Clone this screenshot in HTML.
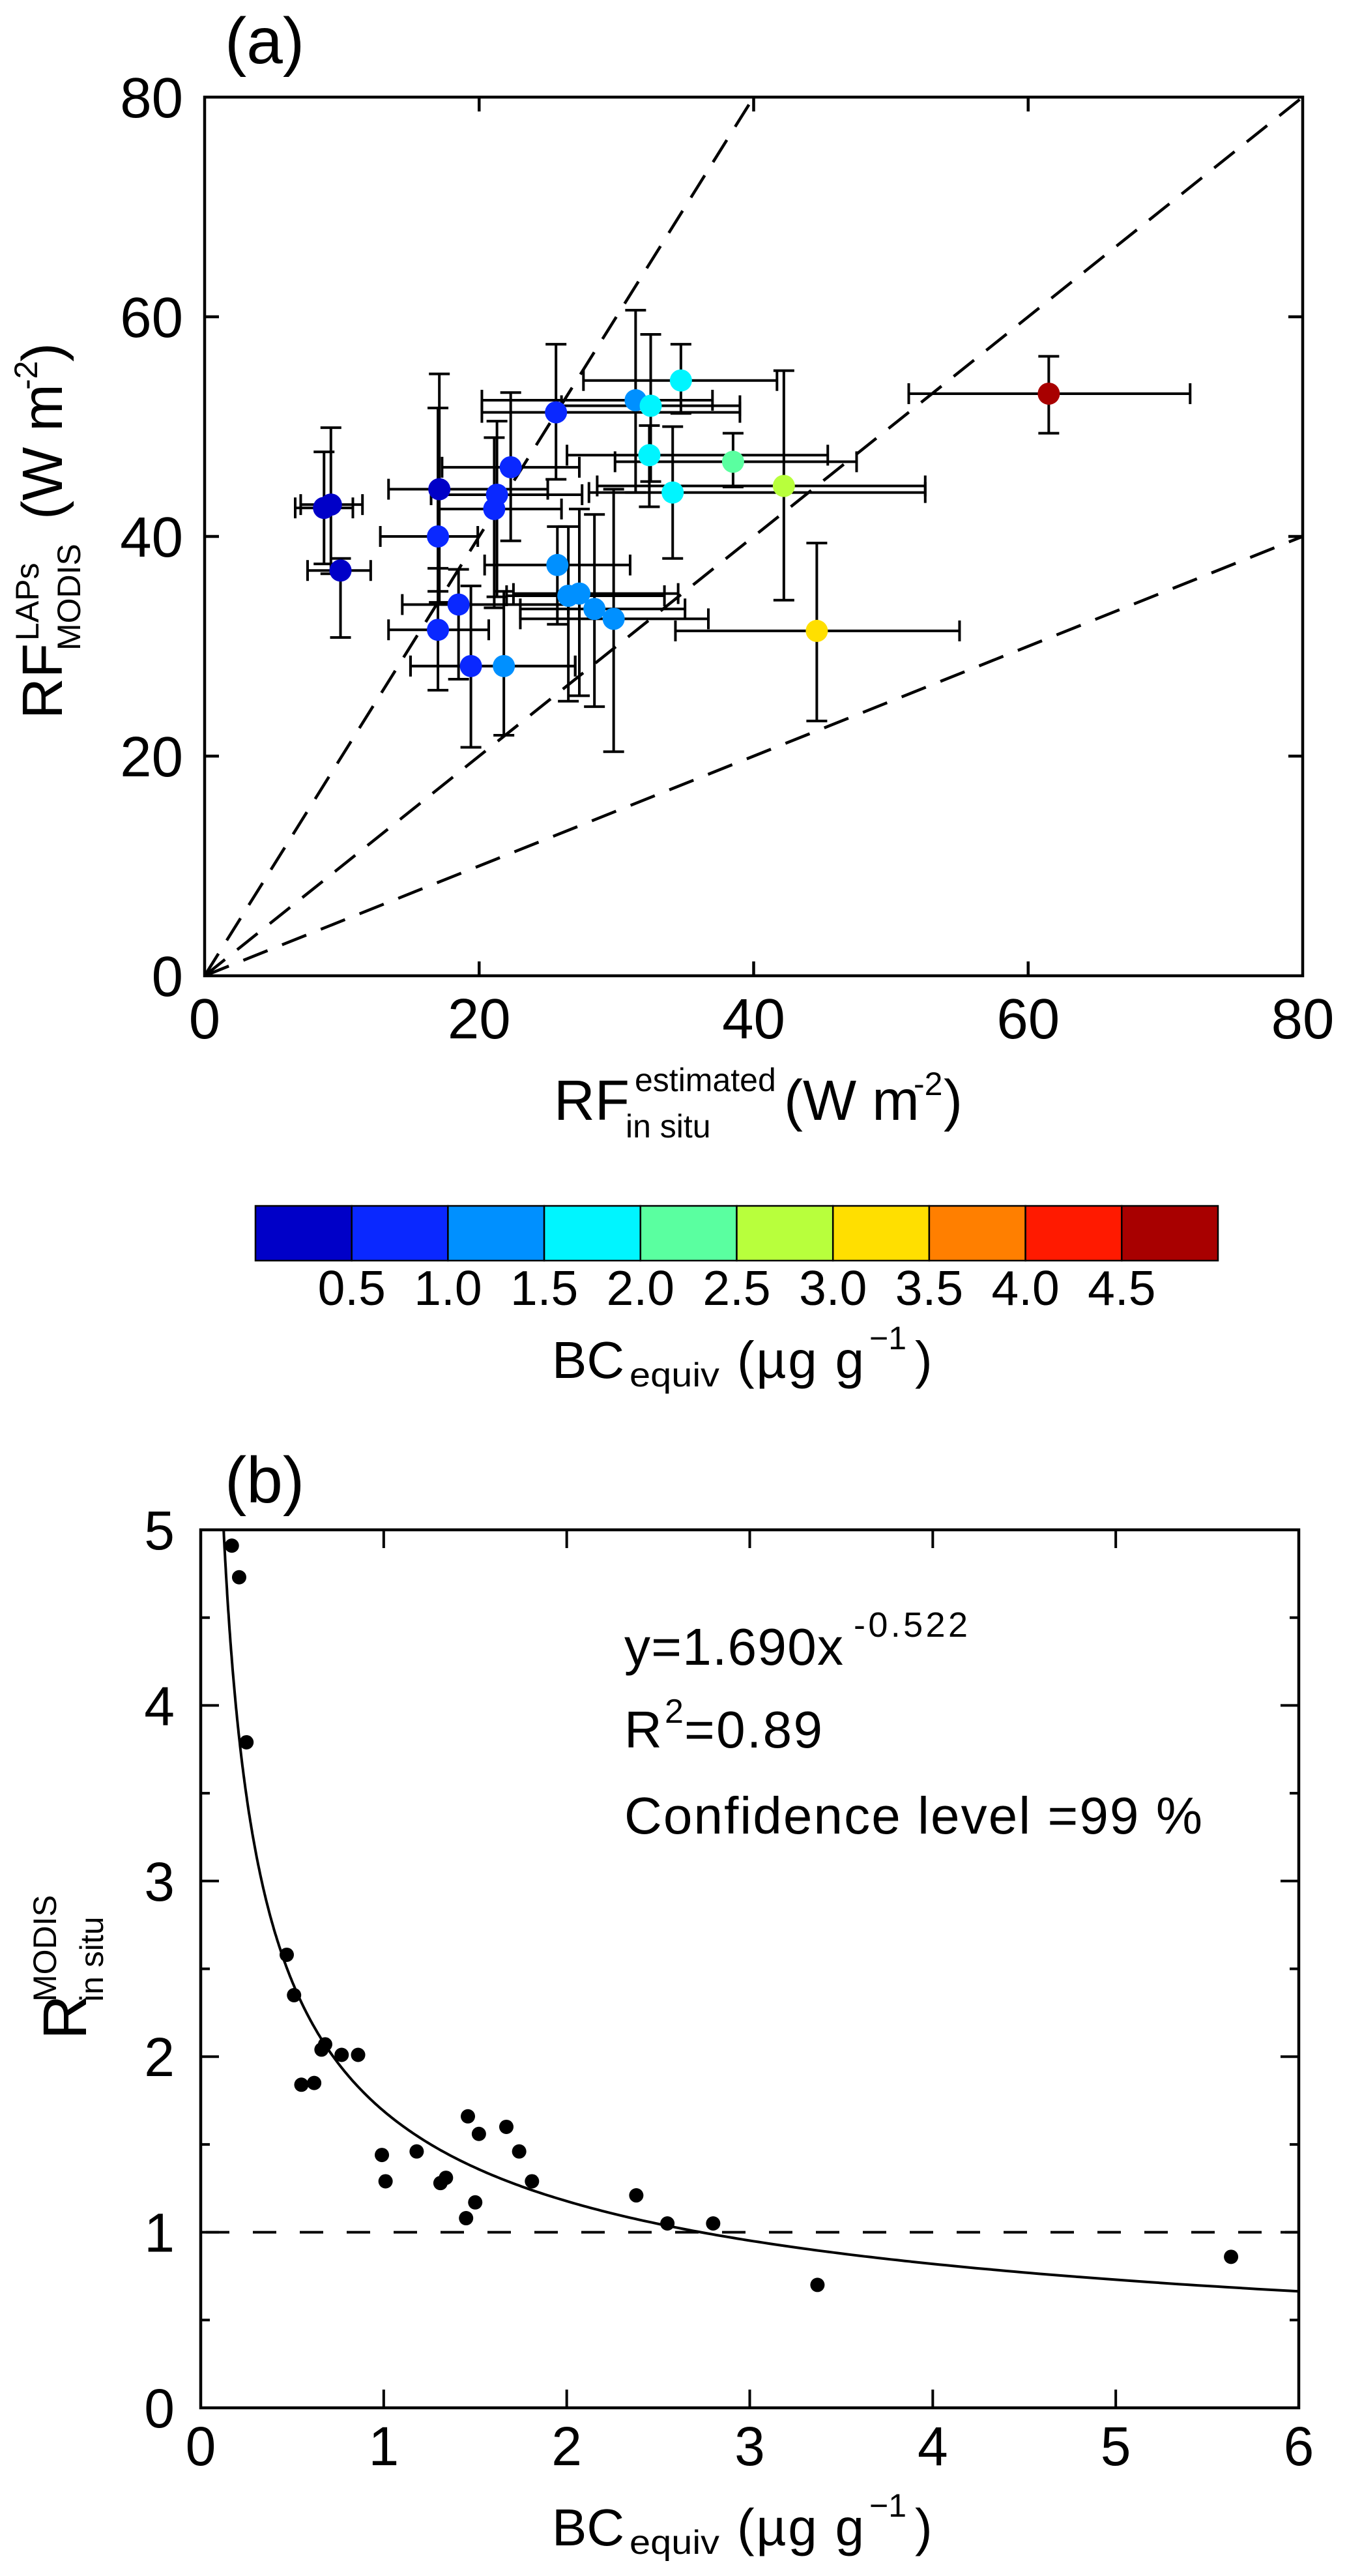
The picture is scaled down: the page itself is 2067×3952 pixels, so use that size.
<!DOCTYPE html>
<html><head><meta charset="utf-8"><style>
html,body{margin:0;padding:0;background:#fff}
svg{display:block}
text{font-family:"Liberation Sans",Arial,sans-serif;fill:#000}
</style></head><body>
<svg id="fig" width="2067" height="3952" viewBox="0 0 2067 3952" xmlns="http://www.w3.org/2000/svg">
<g id="pa"></g>
<g id="cb"></g>
<g id="pb"></g>
</svg>
<script>
// ---- Panel (a) data ----
const aX = [8.7, 9.2, 9.9, 17.1, 17.0, 17.0, 18.5, 19.4, 21.8, 21.3, 21.1, 22.3, 25.6, 25.7, 26.5, 27.3, 28.4, 29.8, 31.4, 32.5, 34.7, 32.4, 34.1, 38.5, 42.2, 44.6, 61.5];
const aY = [42.6, 42.9, 36.9, 44.3, 40.0, 31.5, 33.8, 28.2, 28.2, 43.8, 42.5, 46.3, 51.3, 37.4, 34.6, 34.8, 33.4, 32.5, 52.4, 51.9, 54.2, 47.4, 44.0, 46.8, 44.6, 31.4, 53.0];
const aXlo = [6.6, 7.0, 7.5, 13.4, 12.8, 13.4, 14.4, 15.0, 15.0, 16.5, 17.0, 17.3, 20.2, 20.4, 22.0, 22.5, 23.0, 23.0, 20.2, 26.0, 27.6, 26.4, 28.0, 29.9, 28.6, 34.3, 51.3];
const aXhi = [10.8, 11.5, 12.1, 25.0, 19.9, 20.7, 26.5, 27.0, 27.0, 27.5, 26.0, 27.3, 39.0, 31.0, 33.5, 34.5, 35.0, 36.7, 37.0, 39.0, 41.7, 45.4, 52.5, 47.5, 52.5, 55.0, 71.8];
const aYlo = [37.5, 36.6, 30.8, 34.0, 35.0, 26.0, 27.0, 20.8, 21.9, 34.5, 33.5, 39.6, 45.2, 32.0, 25.0, 25.5, 24.5, 20.4, 44.0, 45.0, 51.2, 42.7, 38.0, 44.5, 34.2, 23.2, 49.4];
const aYhi = [47.7, 49.9, 38.0, 54.8, 51.7, 37.1, 37.0, 35.5, 35.0, 50.5, 49.0, 53.1, 57.5, 40.9, 40.9, 42.5, 42.0, 44.3, 60.6, 58.4, 57.5, 50.1, 50.0, 49.4, 55.1, 39.4, 56.4];
const aBC = [0.3, 0.3, 0.3, 0.3, 0.7, 0.7, 0.7, 0.7, 1.2, 0.7, 0.7, 0.7, 0.7, 1.2, 1.2, 1.2, 1.2, 1.2, 1.2, 1.7, 1.7, 1.7, 1.7, 2.2, 2.7, 3.2, 5.6];
const aTicks = [0, 20, 40, 60, 80];
const refSlopes = [2, 1, 0.5];
// ---- Colorbar ----
const cbColors = ["#0000c8","#0a28ff","#0090ff","#00f5ff","#5affa0","#b8ff3c","#ffdf00","#ff7f00","#ff1a00","#a80000"];
const cbLabels = ["0.5","1.0","1.5","2.0","2.5","3.0","3.5","4.0","4.5"];
// ---- Panel (b) data ----
const bX = [0.17,0.21,0.25,0.47,0.51,0.55,0.62,0.66,0.68,0.77,0.86,0.99,1.01,1.18,1.31,1.34,1.46,1.45,1.50,1.52,1.67,1.74,1.81,2.38,2.55,2.80,3.37,5.63];
const bY = [4.91,4.73,3.79,2.58,2.35,1.84,1.85,2.04,2.07,2.01,2.01,1.44,1.29,1.46,1.28,1.31,1.66,1.08,1.17,1.56,1.60,1.46,1.29,1.21,1.05,1.05,0.70,0.86];
const bXTicks = [0,1,2,3,4,5,6];
const bYTicks = [0,1,2,3,4,5];
const fitA = 1.690, fitB = -0.522;

const NS = "http://www.w3.org/2000/svg";
function mk(tag, parent, attrs){
  const e = document.createElementNS(NS, tag);
  for (const k in attrs) e.setAttribute(k, attrs[k]);
  parent.appendChild(e); return e;
}
function txt(parent, x, y, s, size, anchor){
  const t = mk("text", parent, {x:x, y:y, "font-size":size, "text-anchor":anchor||"start"});
  t.textContent = s; return t;
}

// ===== Panel A =====
const pa = document.getElementById("pa");
const AL=314, AR=1999, AT=149, AB=1497;
const ax = v => AL + (v/80)*(AR-AL);
const ay = v => AB - (v/80)*(AB-AT);
refSlopes.forEach((s,i)=>{
  const xe = Math.min(80, 80/s), ye = xe*s;
  const l = mk("line", pa, {x1:ax(0),y1:ay(0),x2:ax(xe),y2:ay(ye),stroke:"#000","stroke-width":4.5,"stroke-dasharray":"40 24"});
  
  
});
const cap=16;
aX.forEach((v,i)=>{
  const g = mk("g", pa, {stroke:"#000","stroke-width":4});
  
  
  const cx=ax(v), cy=ay(aY[i]);
  mk("line", g, {x1:ax(aXlo[i]),y1:cy,x2:ax(aXhi[i]),y2:cy});
  mk("line", g, {x1:ax(aXlo[i]),y1:cy-cap,x2:ax(aXlo[i]),y2:cy+cap});
  mk("line", g, {x1:ax(aXhi[i]),y1:cy-cap,x2:ax(aXhi[i]),y2:cy+cap});
  mk("line", g, {x1:cx,y1:ay(aYlo[i]),x2:cx,y2:ay(aYhi[i])});
  mk("line", g, {x1:cx-cap,y1:ay(aYlo[i]),x2:cx+cap,y2:ay(aYlo[i])});
  mk("line", g, {x1:cx-cap,y1:ay(aYhi[i]),x2:cx+cap,y2:ay(aYhi[i])});
});
aX.forEach((v,i)=>{
  const bin = Math.min(9, Math.floor(aBC[i]/0.5));
  const c = mk("circle", pa, {cx:ax(v), cy:ay(aY[i]), r:17, fill:cbColors[bin]});
  
  
});
const fa = mk("rect", pa, {x:AL,y:AT,width:AR-AL,height:AB-AT,fill:"none",stroke:"#000","stroke-width":4.5});


aTicks.forEach(t=>{
  if (t>0 && t<80){
    mk("line", pa, {x1:ax(t),y1:AB,x2:ax(t),y2:AB-22,stroke:"#000","stroke-width":4.5});
    mk("line", pa, {x1:ax(t),y1:AT,x2:ax(t),y2:AT+22,stroke:"#000","stroke-width":4.5});
    mk("line", pa, {x1:AL,y1:ay(t),x2:AL+22,y2:ay(t),stroke:"#000","stroke-width":4.5});
    mk("line", pa, {x1:AR,y1:ay(t),x2:AR-22,y2:ay(t),stroke:"#000","stroke-width":4.5});
  }
  const xl = txt(pa, ax(t), 1593, String(t), 87, "middle");
  
  
  const yl = txt(pa, 281, ay(t)+31, String(t), 87, "end");
  
  
});
</script>
<script>
(function(){
const pa = document.getElementById("pa");
pa.insertAdjacentHTML("beforeend",
 '<text x="345" y="97" font-size="100">(a)</text>'+
 '<g><text x="850" y="1718" font-size="87">RF</text>'+
 '<text x="974" y="1674" font-size="50">estimated</text><text x="960" y="1745" font-size="50">in situ</text>'+
 '<text x="1203" y="1718" font-size="87">(W m</text><text x="1402" y="1680" font-size="50">-2</text><text x="1448" y="1718" font-size="87">)</text></g>'+
 '<g transform="translate(95,1103) rotate(-90)"><text x="0" y="0" font-size="87">RF</text>'+
 '<text x="120" y="-36" font-size="50">LAPs</text><text x="105" y="28" font-size="50">MODIS</text>'+
 '<text x="306" y="0" font-size="87">(W m</text><text x="505" y="-38" font-size="50">-2</text><text x="548" y="0" font-size="87">)</text></g>');
})();
</script>
<script>
// ===== Colorbar =====
(function(){
const cb = document.getElementById("cb");
const NS = "http://www.w3.org/2000/svg";
const L=392,R=1869,T=1850,B=1934,w=(R-L)/cbColors.length;
cbColors.forEach((c,i)=>{
  const r=document.createElementNS(NS,"rect");
  r.setAttribute("x",L+i*w);r.setAttribute("y",T);r.setAttribute("width",w);r.setAttribute("height",B-T);
  r.setAttribute("fill",c);r.setAttribute("stroke","#000");r.setAttribute("stroke-width",2.5);
  
  
  cb.appendChild(r);
});
cbLabels.forEach((s,i)=>{
  const t=document.createElementNS(NS,"text");
  t.setAttribute("x",L+(i+1)*w);t.setAttribute("y",2002);t.setAttribute("font-size",75);t.setAttribute("text-anchor","middle");
  t.textContent=s;
  
  
  cb.appendChild(t);
});
cb.insertAdjacentHTML("beforeend",
 '<g><text x="847" y="2114" font-size="80">BC</text><text x="966" y="2127" font-size="52" textLength="138" lengthAdjust="spacingAndGlyphs">equiv</text>'+
 '<text x="1131" y="2114" font-size="80" textLength="195">(µg g</text><text x="1334" y="2070" font-size="50">−1</text><text x="1404" y="2114" font-size="80">)</text></g>');
})();
</script>
<script>
// ===== Panel B =====
(function(){
const pb = document.getElementById("pb");
const NS = "http://www.w3.org/2000/svg";
const BL=308,BR=1993,BT=2347,BB=3694;
const bx = v => BL + (v/6)*(BR-BL);
const by = v => BB - (v/5)*(BB-BT);
function el(tag, attrs){const e=document.createElementNS(NS,tag);for(const k in attrs)e.setAttribute(k,attrs[k]);pb.appendChild(e);return e;}
const dl = el("line",{x1:bx(0),y1:by(1),x2:bx(6),y2:by(1),stroke:"#000","stroke-width":4,"stroke-dasharray":"36 36","stroke-dashoffset":"-8"});


let d="";
const x0 = Math.pow(fitA/5, -1/fitB);
for(let k=0;k<=400;k++){
  const x = x0*Math.pow(6/x0, k/400);
  const y = fitA*Math.pow(x, fitB);
  d += (k?"L":"M")+bx(x).toFixed(1)+","+by(y).toFixed(1);
}
const fc = el("path",{d:d,fill:"none",stroke:"#000","stroke-width":4});


bX.forEach((v,i)=>{
  const c = el("circle",{cx:bx(v),cy:by(bY[i]),r:11,fill:"#000"});
  
  
});
const fr = el("rect",{x:BL,y:BT,width:BR-BL,height:BB-BT,fill:"none",stroke:"#000","stroke-width":4.5});


bXTicks.forEach(t=>{
  if(t>0&&t<6){
    el("line",{x1:bx(t),y1:BB,x2:bx(t),y2:BB-28,stroke:"#000","stroke-width":4});
    el("line",{x1:bx(t),y1:BT,x2:bx(t),y2:BT+28,stroke:"#000","stroke-width":4});
  }
  const l = el("text",{x:bx(t),y:3782,"font-size":84,"text-anchor":"middle"}); l.textContent=String(t);
  
  
});
for(let h=0;h<=10;h++){
  const v=h/2; if(v===0||v===5) continue;
  const len = (h%2===0)?28:14;
  el("line",{x1:BL,y1:by(v),x2:BL+len,y2:by(v),stroke:"#000","stroke-width":4});
  el("line",{x1:BR,y1:by(v),x2:BR-len,y2:by(v),stroke:"#000","stroke-width":4});
}
bYTicks.forEach(t=>{
  const l = el("text",{x:268,y:by(t)+30,"font-size":84,"text-anchor":"end"}); l.textContent=String(t);
  
  
});
pb.insertAdjacentHTML("beforeend",
 '<text x="345" y="2305" font-size="100">(b)</text>'+
 '<g><text x="958" y="2554" font-size="80" textLength="336">y=1.690x</text><text x="1310" y="2511" font-size="54" textLength="175">-0.522</text></g>'+
 '<g><text x="958" y="2681" font-size="80" textLength="60">R</text><text x="1020" y="2643" font-size="52">2</text><text x="1050" y="2681" font-size="80" textLength="212">=0.89</text></g>'+
 '<text x="958" y="2813" font-size="80" textLength="887">Confidence level =99 %</text>'+
 '<g><text x="847" y="3905" font-size="80">BC</text><text x="966" y="3918" font-size="52" textLength="138" lengthAdjust="spacingAndGlyphs">equiv</text>'+
 '<text x="1131" y="3905" font-size="80" textLength="195">(µg g</text><text x="1334" y="3861" font-size="50">−1</text><text x="1404" y="3905" font-size="80">)</text></g>'+
 '<g transform="translate(132,3129) rotate(-90)"><text x="0" y="0" font-size="95">R</text>'+
 '<text x="58" y="-46" font-size="50">MODIS</text><text x="58" y="26" font-size="50">in situ</text></g>');
})();
</script>
</body></html>
